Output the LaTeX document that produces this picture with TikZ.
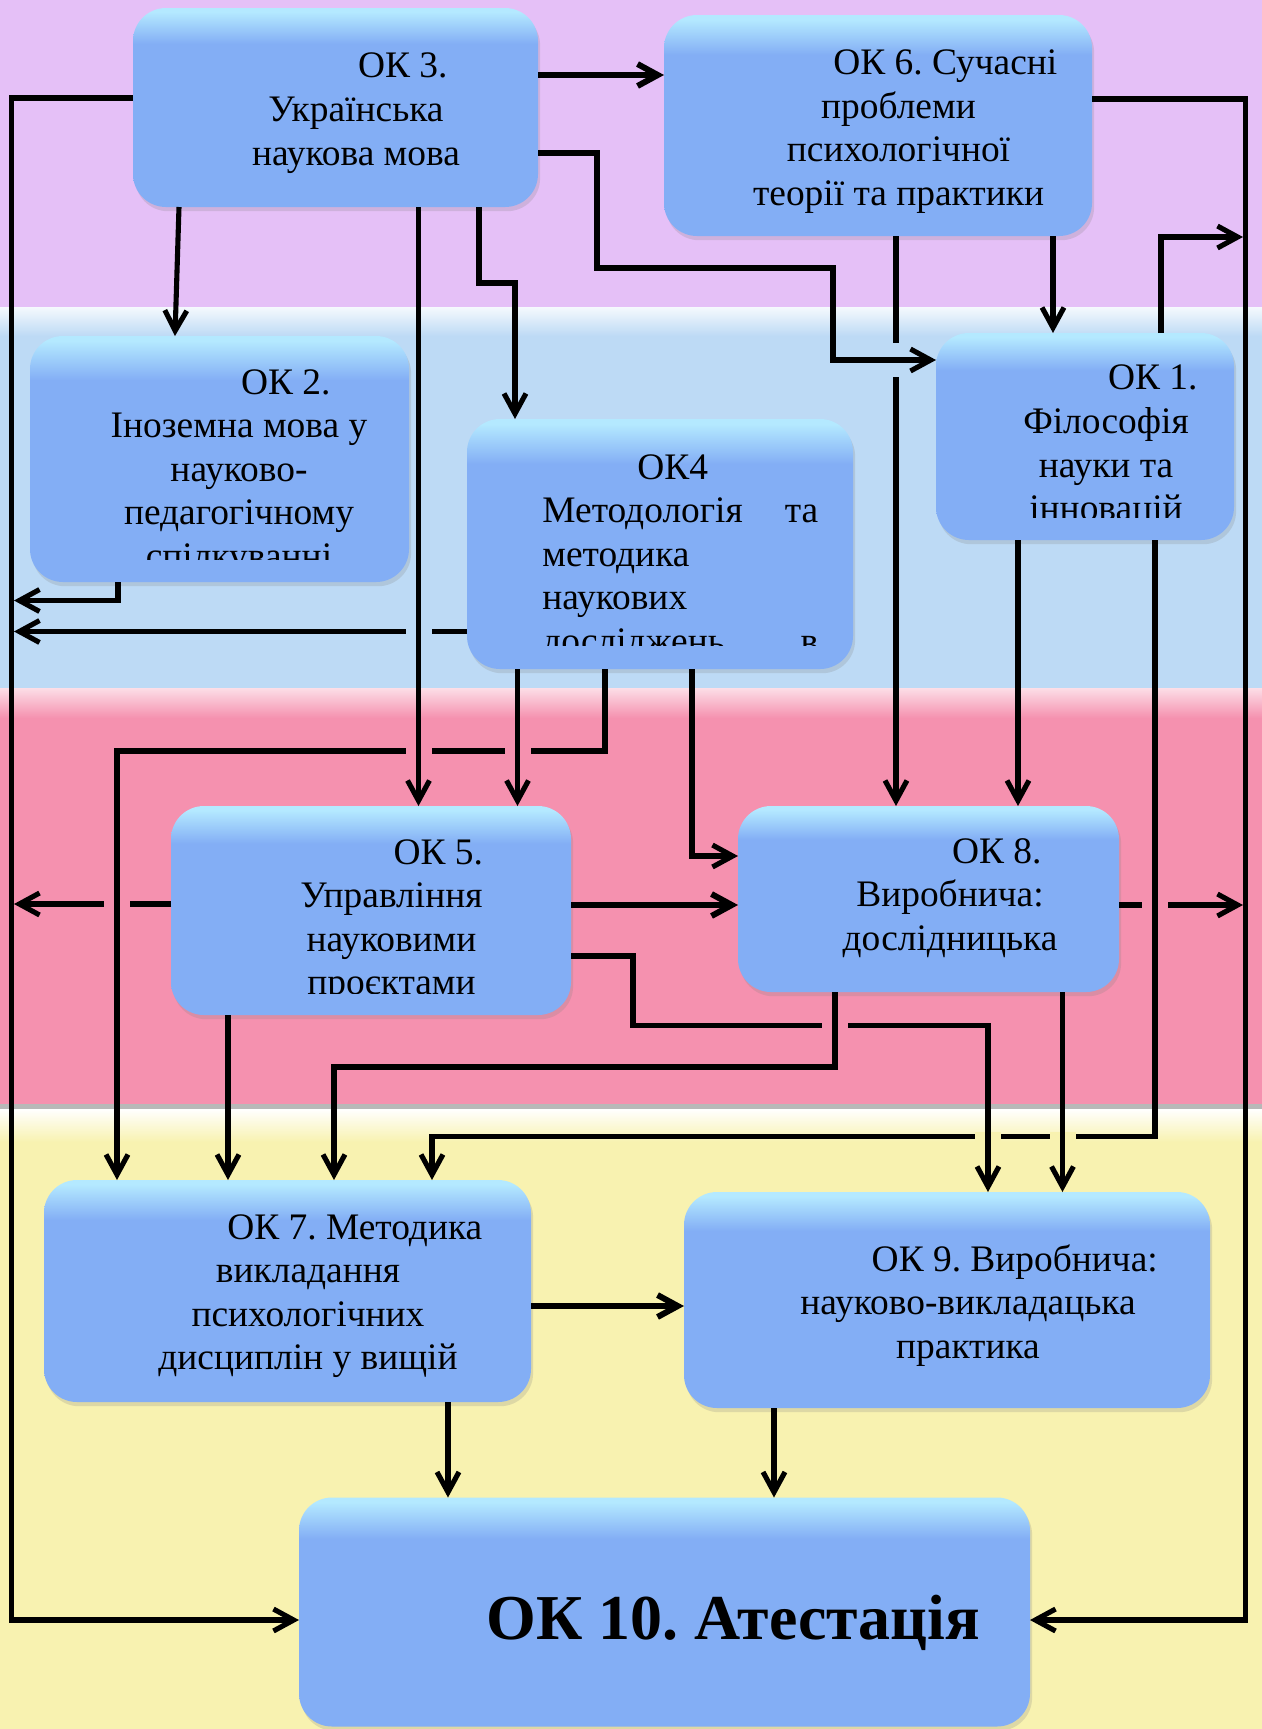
\documentclass[tikz,border=0pt]{standalone}
\usepackage{fontspec}
\setmainfont{Liberation Serif}
\usetikzlibrary{arrows.meta,shadows}
\definecolor{bandP}{RGB}{229,192,247}
\definecolor{bandB}{RGB}{189,218,245}
\definecolor{bandR}{RGB}{245,145,175}
\definecolor{bandY}{RGB}{248,242,176}
\definecolor{boxM}{RGB}{131,174,245}
\definecolor{boxT}{RGB}{180,233,255}
\pgfdeclareverticalshading{boxshade}{100bp}{color(0bp)=(boxM); color(66bp)=(boxM); color(74bp)=(boxT); color(100bp)=(boxT)}
\newcommand\bodyfont{\fontsize{21.3}{24.8}\selectfont\frenchspacing}
\newcommand\bigfont{\fontsize{36.4}{40}\selectfont\bfseries\frenchspacing}
\newcommand\gapH[3]{\fill[#1] (#2-13,#3-5) rectangle (#2+13,#3+5);}
\newcommand\gapV[3]{\fill[#1] (#2-5,#3-17) rectangle (#2+5,#3+17);}
\frenchspacing
\begin{document}
\begin{tikzpicture}[x=0.02cm,y=-0.02cm,
  box/.style={shade, shading=boxshade, rounded corners=0.66cm, inner sep=0pt, outer sep=0pt,
    drop shadow={opacity=0.22, shadow xshift=1.2pt, shadow yshift=-2.4pt}},
  txt/.style={align=center, font=\bodyfont, inner sep=0pt, anchor=base},
  link/.style={line width=2.9pt, line join=miter},
  conn/.style={link, -{Straight Barb[length=11.5pt,width=12.5pt]}},
  heavyconn/.style={conn, line width=3.4pt}]
\useasboundingbox (0,0) rectangle (1262,1729);
% background bands
\fill[bandP] (0,0) rectangle (1262,307);
\fill[bandB] (0,307) rectangle (1262,688);
\fill[bandR] (0,688) rectangle (1262,1106);
\fill[bandY] (0,1106) rectangle (1262,1729);
\shade[top color=white!85!bandB, bottom color=bandB] (0,307) rectangle (1262,336);
\shade[top color=white!70!bandR, bottom color=bandR] (0,688) rectangle (1262,718);
\fill[black!28] (0,1104) rectangle (1262,1109);
\shade[top color=white, bottom color=bandY] (0,1109) rectangle (1262,1142);

% boxes
\node[box, minimum width=405*0.02cm, minimum height=199*0.02cm] (ok3) at (335.5,107.5) {};
\node[box, minimum width=428*0.02cm, minimum height=221*0.02cm] (ok6) at (878,125.5) {};
\node[box, minimum width=379*0.02cm, minimum height=246*0.02cm] (ok2) at (219.5,459) {};
\node[box, minimum width=386*0.02cm, minimum height=250*0.02cm] (ok4) at (660,544) {};
\node[box, minimum width=298*0.02cm, minimum height=207*0.02cm] (ok1) at (1085,436.5) {};
\node[box, minimum width=400*0.02cm, minimum height=209*0.02cm] (ok5) at (371,910.5) {};
\node[box, minimum width=381*0.02cm, minimum height=186*0.02cm] (ok8) at (928.5,899) {};
\node[box, minimum width=487*0.02cm, minimum height=222*0.02cm] (ok7) at (287.5,1291) {};
\node[box, minimum width=526*0.02cm, minimum height=216*0.02cm] (ok9) at (947,1300) {};
\node[box, minimum width=731*0.02cm, minimum height=229*0.02cm] (ok10) at (664.5,1612) {};

% texts (anchor = baseline of the last line)
\node[txt] (t3) at (356,165) {\hspace*{2.5em}ОК 3.\\Українська\\наукова мова};
\node[txt] (t6) at (898.5,205.3) {\hspace*{2.5em}ОК 6. Сучасні\\проблеми\\психологічної\\теорії та практики};
\begin{scope}
  \clip (0,300) rectangle (420,559);
  \node[txt] (t2) at (239,568.3) {\hspace*{2.5em}ОК 2.\\Іноземна мова у\\науково-\\педагогічному\\спілкуванні};
\end{scope}
\begin{scope}
  \clip (460,400) rectangle (860,645);
  \node[font=\bodyfont, inner sep=0pt, text width=276*0.02cm, align=left, anchor=base west] (t4) at (542,479)
    {\hspace*{1.9cm}ОК4\\Методологія\hfill та\\методика\\наукових\\досліджень\hfill в};
\end{scope}
\begin{scope}
  \clip (930,330) rectangle (1240,517);
  \node[txt] (t1) at (1106,520.7) {\hspace*{2.5em}ОК 1.\\Філософія\\науки та\\інновацій};
\end{scope}
\begin{scope}
  \clip (160,800) rectangle (580,993);
  \node[txt] (t5) at (391.5,994.7) {\hspace*{2.5em}ОК 5.\\Управління\\науковими\\проєктами};
\end{scope}
\node[txt] (t8) at (950,950.2) {\hspace*{2.5em}ОК 8.\\Виробнича:\\дослідницька};
\node[txt] (t7) at (308,1369.7) {\hspace*{2.5em}ОК 7. Методика\\викладання\\психологічних\\дисциплін у вищій};
\node[txt] (t9) at (968,1358.2) {\hspace*{2.5em}ОК 9. Виробнича:\\науково-викладацька\\практика};
\node[font=\bigfont, inner sep=0pt, anchor=base] (t10) at (733.5,1639) {ОК 10. Атестація};

% free ends on the outer lines
\coordinate (L1) at (14,600.5);
\coordinate (L2) at (14,631.5);
\coordinate (L3) at (14,904);
\coordinate (R1) at (1243,237);
\coordinate (R2) at (1243,905);

% connectors interrupted by crossings, drawn in layers
\draw[conn] (ok8.east |- 0,905) -- (R2);
\draw[conn] (ok5.west |- 0,904) -- (L3);
\draw[conn] (ok4.west |- 0,631.5) -- (L2);
\draw[conn] (ok6.south -| 896,0) -- (ok8.north -| 896,0);
\gapH{bandR}{1155}{905}
\gapH{bandR}{117}{904}
\gapH{bandB}{418.5}{631.5}
\gapV{bandB}{896}{360}
\draw[conn] (ok1.south -| 1155,0) -- (1155,1136.5) -- (432,1136.5) -- (ok7.north -| 432,0);
\draw[conn] (ok4.south -| 605,0) -- (605,751) -- (117,751) -- (ok7.north -| 117,0);
\gapH{bandY}{988}{1136.5}
\gapH{bandY}{1062.5}{1136.5}
\gapH{bandR}{418.5}{751}
\gapH{bandR}{517.5}{751}
\draw[conn] (ok5.east |- 0,956) -- (633,956) -- (633,1025.5) -- (988,1025.5) -- (ok9.north -| 988,0);
\gapH{bandR}{835}{1025.5}

% other connectors
\draw[heavyconn] (ok3.east |- 0,75) -- (ok6.west |- 0,75);
\draw[conn] (ok3.east |- 0,153) -- (597,153) -- (597,268) -- (833,268) -- (833,360) -- (ok1.west |- 0,360);
\draw[conn] (ok3.south -| 179,0) -- (ok2.north -| 175,0);
\draw[conn] (ok3.south -| 418.5,0) -- (ok5.north -| 418.5,0);
\draw[conn] (ok3.south -| 479,0) -- (479,283) -- (515,283) -- (ok4.north -| 515,0);
\draw[conn] (ok3.west |- 0,98) -- (11.5,98) -- (11.5,1620) -- (ok10.west |- 0,1620);
\draw[conn] (ok6.east |- 0,99) -- (1245.5,99) -- (1245.5,1620) -- (ok10.east |- 0,1620);
\draw[conn] (ok6.south -| 1053,0) -- (ok1.north -| 1053,0);
\draw[conn] (ok1.north -| 1161,0) -- (1161,237) -- (R1);
\draw[conn] (ok1.south -| 1018,0) -- (ok8.north -| 1018,0);
\draw[conn] (ok2.south -| 118,0) -- (118,600.5) -- (L1);
\draw[conn] (ok4.south -| 517.5,0) -- (ok5.north -| 517.5,0);
\draw[conn] (ok4.south -| 692,0) -- (692,856) -- (ok8.west |- 0,856);
\draw[heavyconn] (ok5.east |- 0,905) -- (ok8.west |- 0,905);
\draw[conn] (ok5.south -| 228,0) -- (ok7.north -| 228,0);
\draw[conn] (ok8.south -| 835,0) -- (835,1067) -- (334,1067) -- (ok7.north -| 334,0);
\draw[conn] (ok8.south -| 1062.5,0) -- (ok9.north -| 1062.5,0);
\draw[heavyconn] (ok7.east |- 0,1306) -- (ok9.west |- 0,1306);
\draw[conn] (ok7.south -| 448,0) -- (ok10.north -| 448,0);
\draw[conn] (ok9.south -| 774,0) -- (ok10.north -| 774,0);
\end{tikzpicture}
\end{document}
